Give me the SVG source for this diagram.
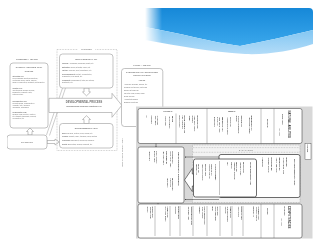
<svg xmlns="http://www.w3.org/2000/svg" width="320" height="240" viewBox="0 0 320 240">
<defs>
<style>
.f{font-family:"Liberation Sans",Arial,sans-serif}
.l{fill:#6e6e6e}
.d{fill:#3a3a3a}
.b{font-weight:bold}
.c{text-anchor:middle}
.lb{fill:#fff;stroke:#9a9a9a;stroke-width:0.6}
.rb{fill:#fff;stroke:#3c3c3c;stroke-width:0.55}
.dv{stroke:#555;stroke-width:0.35}
.dot{fill:none;stroke:#8a8a8a;stroke-width:0.45;stroke-dasharray:0.8 0.8}
.s1{font-size:2.1px}.s2{font-size:1.8px}.s3{font-size:1.55px}.s4{font-size:2.6px}
</style>
<linearGradient id="gD" x1="0" y1="0" x2="0" y2="1"><stop offset="0" stop-color="#1688d8"/><stop offset="1" stop-color="#3ba8ec"/></linearGradient>
<linearGradient id="gL" x1="0" y1="0" x2="0" y2="1"><stop offset="0" stop-color="#7cc4f2"/><stop offset="1" stop-color="#b3dcf8"/></linearGradient>
<linearGradient id="fade" x1="145" y1="0" x2="162" y2="0" gradientUnits="userSpaceOnUse"><stop offset="0" stop-color="#fff" stop-opacity="0"/><stop offset="1" stop-color="#fff" stop-opacity="1"/></linearGradient>
<mask id="m"><rect x="0" y="0" width="320" height="60" fill="url(#fade)"/></mask>
<filter id="grey" x="0" y="0" width="1" height="1"><feColorMatrix type="saturate" values="0"/></filter>
<marker id="ah" viewBox="0 0 6 6" refX="5" refY="3" markerWidth="3" markerHeight="3" orient="auto"><path d="M0,0 L6,3 L0,6 z" fill="#333"/></marker>
</defs>
<rect width="320" height="240" fill="#fff"/>
<g id="swoosh" mask="url(#m)">
<path d="M145,8 H309 Q313,8 313,12 V30 C292,35 262,42 240,46 C210,42 180,33 145,27 Z" fill="url(#gD)"/>
<path d="M145,27 C180,33 210,42 240,46 C262,42 292,35 313,30 V44 C292,51 266,55 245,54 C210,52 180,46 145,40 Z" fill="url(#gL)"/>
</g>

<g filter="url(#grey)">
<!-- LEFT DIAGRAM -->
<g id="left-connectors">
<line x1="46.5" y1="135" x2="62.5" y2="88" stroke="#9a9a9a" stroke-width="0.5"/>
<line x1="49.5" y1="135.5" x2="65.5" y2="88" stroke="#9a9a9a" stroke-width="0.5"/>
<polygon class="lb" points="28,135 28,131.5 26.5,131.5 30,128 33.5,131.5 32,131.5 32,135"/>
<polygon class="lb" points="47,140.5 55,140.5 55,139 59.3,142 55,145 55,143.5 47,143.5"/>
<polygon class="lb" points="84,88 84,92 82.5,92 86.5,95.8 90.5,92 89,92 89,88"/>
<polygon class="lb" points="84,123.5 84,119.5 82.5,119.5 86.5,115.7 90.5,119.5 89,119.5 89,123.5"/>
</g>
<g id="catalysts-frame">
<rect class="dot" x="57" y="49.5" width="60" height="101"/>
<rect x="78" y="48.3" width="17" height="2.4" fill="#fff"/>
<text class="f l b s2 c" x="86.5" y="50.3">CATALYSTS</text>
</g>
<g id="nat">
<text class="f l b s2 c" x="27" y="59.8">GIFTEDNESS (~ Top 10%)</text>
<rect class="lb" x="10" y="63" width="38" height="65" rx="3"/>
<text class="f l b s1 c" x="29" y="68">NATURAL ABILITIES (NAT)</text>
<text class="f l b s2 c" x="29" y="72">DOMAINS</text>
<g class="f l s3">
<text class="b" x="12.5" y="77.3">Intellectual (GI)</text>
<text x="12.5" y="79.4">Fluid reasoning (inductive/deductive),</text>
<text x="12.5" y="81.4">crystallized verbal, spatial, memory,</text>
<text x="12.5" y="83.4">sense of observation, judgment, metacognition</text>
<text class="b" x="12.5" y="89.3">Creative (GC)</text>
<text x="12.5" y="91.4">Inventiveness (problem-solving),</text>
<text x="12.5" y="93.4">imagination, originality (arts),</text>
<text x="12.5" y="95.4">retrieval fluency</text>
<text class="b" x="12.5" y="101.7">Socioaffective (GS)</text>
<text x="12.5" y="103.8">Perceptiveness, communication</text>
<text x="12.5" y="105.8">(empathy, tact), influence</text>
<text x="12.5" y="107.8">(leadership, persuasion)</text>
<text class="b" x="12.5" y="112.7">Sensorimotor (GM)</text>
<text x="12.5" y="114.8">Senses: visual, auditory, olfactory,</text>
<text x="12.5" y="116.8">etc. Strength, endurance, reflexes,</text>
<text x="12.5" y="118.8">coordination, etc.</text>
</g>
</g>
<g id="chance">
<rect class="lb" x="7" y="135" width="40" height="14" rx="3"/>
<text class="f l b s2 c" x="27" y="142.7">CHANCE (CH)</text>
</g>
<g id="intrapersonal">
<rect class="lb" x="59.5" y="54" width="53.5" height="34" rx="3"/>
<text class="f l b s1 c" x="86.2" y="59.5">INTRAPERSONAL (IC)</text>
<g class="f l s3">
<text x="62" y="64"><tspan class="b">Physical:</tspan> Appearance, handicaps, health, etc.</text>
<text x="62" y="67.8"><tspan class="b">Motivation:</tspan> Needs, interests, values, etc.</text>
<text x="62" y="71.4"><tspan class="b">Volition:</tspan> Willpower, effort, persistence, etc.</text>
<text x="62" y="75"><tspan class="b">Self-management:</tspan> Maturity, concentration,</text>
<text x="62" y="77.2">organization, work habits, etc.</text>
<text x="62" y="81"><tspan class="b">Personality:</tspan> Temperament, traits, self-esteem,</text>
<text x="62" y="83.2">adaptability, etc.</text>
</g>
</g>
<g id="developmental-process">
<polygon points="49,98.3 112,98.3 112,93.3 121.8,105.3 112,117.3 112,112.5 49,112.5" fill="#fff" stroke="#9a9a9a" stroke-width="0.6"/>
<text class="f l b s4 c" x="84" y="102.6">DEVELOPMENTAL PROCESS</text>
<text class="f l b s2 c" x="84" y="106.6">Informal/formal learning &amp; practicing (LP)</text>
</g>
<g id="environmental">
<rect class="lb" x="59.5" y="123.5" width="53.5" height="24.5" rx="3"/>
<text class="f l b s1 c" x="86.2" y="128.5">ENVIRONMENTAL (EC)</text>
<g class="f l s3">
<text x="62" y="133.5"><tspan class="b">Milieu:</tspan> Physical, cultural, social, familial, etc.</text>
<text x="62" y="137.3"><tspan class="b">Persons:</tspan> Parents, family, teachers, peers, mentors</text>
<text x="62" y="141.1"><tspan class="b">Provisions:</tspan> Enrichment, curriculum, pedagogy</text>
<text x="62" y="144.9"><tspan class="b">Events:</tspan> Encounters, awards, accidents, etc.</text>
</g>
</g>
<g id="talent">
<text class="f l b s2 c" x="142" y="66.2">TALENT (~ Top 10%)</text>
<rect class="lb" x="121.5" y="68.5" width="41.3" height="58" rx="3"/>
<text class="f l b s1 c" x="142" y="73">SYSTEMATICALLY DEVELOPED</text>
<text class="f l b s1 c" x="142" y="76.2">SKILLS (TALENT)</text>
<text class="f l b s2 c" x="142" y="81.4">FIELDS</text>
<g class="f l s3">
<text x="124" y="84.5">Academic: language, science, etc.</text>
<text x="124" y="87.6">Technical: automobile, electronics</text>
<text x="124" y="90.7">Science &amp; technology</text>
<text x="124" y="93.8">The arts: visual, drama, music</text>
<text x="124" y="96.9">Social services</text>
<text x="124" y="100">Administration/sales</text>
<text x="124" y="103.1">Business operations</text>
</g>
</g>

<!-- RIGHT ROTATED DIAGRAM -->
<g id="caption">
<text class="f l s2" transform="rotate(90 122 138)" x="122" y="138">Figure 1. Gagné's DMGT 2.0 (2008)</text>
</g>
<g id="frame">
<rect x="136" y="106.5" width="176.5" height="132" fill="#d8d8d8"/>
<rect x="305" y="143.5" width="6" height="16" fill="#fff" stroke="#3c3c3c" stroke-width="0.4"/>
<text class="f d b s2" transform="rotate(90 307.4 144.6)" x="307.4" y="144.6">CHANCE</text>
</g>
<g id="r-nat">
<rect class="rb" x="138" y="108.5" width="164" height="35" rx="2"/>
<line class="dv" x1="274" y1="108.5" x2="274" y2="143.5"/>
<line class="dv" x1="261" y1="108.5" x2="261" y2="143.5"/>
<line class="dv" x1="207" y1="108.5" x2="207" y2="143.5"/>
<line class="dv" x1="176" y1="113.5" x2="176" y2="143.5"/>
<text class="f d b" font-size="2.8" transform="rotate(90 288.3 110.5)" x="288.3" y="110.5">NATURAL ABILITIES</text>
<text class="f d b s2" transform="rotate(90 281.5 114)" x="281.5" y="114">GIFTS (NAT)</text>
<text class="f d s2" transform="rotate(90 279 128)" x="279" y="128">(top 10%)</text>
<text class="f d b s2" transform="rotate(90 266.5 119)" x="266.5" y="119">DOMAINS</text>
<text class="f d b s2 c" x="232" y="112.3">MENTAL</text>
<text class="f d b s2 c" x="168" y="112.3">PHYSICAL</text>
<g class="f d s3">
<text class="b" transform="rotate(90 251 115.5)" x="251" y="115.5">INTELLECTUAL (GI)</text>
<text transform="rotate(90 248.6 117)" x="248.6" y="117">Fluid reasoning, memory</text>
<text class="b" transform="rotate(90 240.5 115.5)" x="240.5" y="115.5">CREATIVE (GC)</text>
<text transform="rotate(90 238.1 115.5)" x="238.1" y="115.5">Inventiveness, imagination,</text>
<text transform="rotate(90 235.7 115.5)" x="235.7" y="115.5">originality</text>
<text class="b" transform="rotate(90 229.5 117)" x="229.5" y="117">SOCIAL (GS)</text>
<text transform="rotate(90 227.1 117)" x="227.1" y="117">Perceptiveness, influence</text>
<text class="b" transform="rotate(90 221.5 117)" x="221.5" y="117">PERCEPTUAL (GP)</text>
<text transform="rotate(90 219.1 117)" x="219.1" y="117">Visual, auditory, tactile</text>
<text transform="rotate(90 216.7 117)" x="216.7" y="117">olfactory, etc.</text>
<text transform="rotate(90 214.3 117)" x="214.3" y="117">proprioception</text>
<text class="b" transform="rotate(90 196.5 115.5)" x="196.5" y="115.5">MUSCULAR (GM)</text>
<text transform="rotate(90 194.1 115.5)" x="194.1" y="115.5">Power, speed, strength,</text>
<text transform="rotate(90 191.7 115.5)" x="191.7" y="115.5">endurance</text>
<text transform="rotate(90 189.3 115.5)" x="189.3" y="115.5">flexibility</text>
<text class="b" transform="rotate(90 184 115.5)" x="184" y="115.5">MOTOR CONTROL (GR)</text>
<text transform="rotate(90 181.6 115.5)" x="181.6" y="115.5">Agility, coordination</text>
<text transform="rotate(90 179.2 115.5)" x="179.2" y="115.5">balance, reflexes</text>
<text class="b" transform="rotate(90 171.5 116)" x="171.5" y="116">HEALTH</text>
<text transform="rotate(90 169.1 116)" x="169.1" y="116">Fitness, resilience</text>
<text transform="rotate(90 164.5 116)" x="164.5" y="116">Sensory acuity</text>
<text transform="rotate(90 157 115.5)" x="157" y="115.5">Physical traits</text>
<text transform="rotate(90 154.6 115.5)" x="154.6" y="115.5">Height, weight,</text>
<text transform="rotate(90 150.5 115.5)" x="150.5" y="115.5">Appearance</text>
<text transform="rotate(90 146 115.5)" x="146" y="115.5">etc.</text>
</g>
</g>
<g id="r-devprocess">
<rect class="rb" x="138" y="147" width="46" height="56" rx="2"/>
<text class="f d b" font-size="2.4" transform="rotate(90 178.3 152)" x="178.3" y="152">DEVELOPMENTAL PROCESS</text>
<g class="f d s3">
<text class="b" transform="rotate(90 172 151)" x="172" y="151">ACTIVITIES (DA)</text>
<text transform="rotate(90 169.6 151)" x="169.6" y="151">Access, content, format</text>
<text class="b" transform="rotate(90 165.5 151)" x="165.5" y="151">INVESTMENT (DI)</text>
<text transform="rotate(90 163.1 151)" x="163.1" y="151">Time, energy, money</text>
<text class="b" transform="rotate(90 172 178)" x="172" y="178">PROGRESS (DP)</text>
<text transform="rotate(90 169.6 178)" x="169.6" y="178">Stages, pace,</text>
<text transform="rotate(90 167.2 178)" x="167.2" y="178">turning points</text>
<text transform="rotate(90 156 151)" x="156" y="151">Novice, advanced,</text>
<text transform="rotate(90 153.6 151)" x="153.6" y="151">proficient, expert</text>
<text transform="rotate(90 149 151)" x="149" y="151">Turning points</text>
</g>
</g>
<g id="r-catalysts">
<rect x="192.5" y="145" width="107.5" height="57.5" fill="#f3f3f3" stroke="#8a8a8a" stroke-width="0.45" stroke-dasharray="0.8 0.8"/>
<line x1="193" y1="147.6" x2="299.5" y2="147.6" stroke="#777" stroke-width="0.35" stroke-dasharray="0.8 0.8"/>
<line x1="193" y1="152.3" x2="299.5" y2="152.3" stroke="#777" stroke-width="0.35" stroke-dasharray="0.8 0.8"/>
<text class="f d s3 c" x="246" y="150.6" letter-spacing="0.6">CATALYSTS</text>
</g>
<g id="r-environmental">
<rect x="219" y="154.5" width="81" height="43" rx="2" fill="#fff" stroke="#2e2e2e" stroke-width="0.7"/>
<text class="f d b" font-size="2.4" transform="rotate(90 293.5 159)" x="293.5" y="159">ENVIRONMENTAL (EC)</text>
<g class="f d s3">
<text class="b" transform="rotate(90 285.5 157.5)" x="285.5" y="157.5">MILIEU (EM)</text>
<text transform="rotate(90 283.1 157.5)" x="283.1" y="157.5">Physical, cultural, social</text>
<text class="b" transform="rotate(90 278.5 157.5)" x="278.5" y="157.5">INDIVIDUALS (EI)</text>
<text transform="rotate(90 276.1 157.5)" x="276.1" y="157.5">Parents, family, peers</text>
<text class="b" transform="rotate(90 270.5 157.5)" x="270.5" y="157.5">PROVISIONS (EP)</text>
<text transform="rotate(90 268.1 157.5)" x="268.1" y="157.5">Enrichment, pedagogy</text>
<text transform="rotate(90 262 157.5)" x="262" y="157.5">Administrative</text>
</g>
</g>
<g id="r-intrapersonal">
<rect x="193.5" y="159" width="63" height="38" rx="2" fill="#fff" stroke="#2e2e2e" stroke-width="0.7"/>
<line class="dv" x1="219.5" y1="161" x2="219.5" y2="195"/>
<text class="f d b" font-size="2.2" transform="rotate(90 250.3 162)" x="250.3" y="162">INTRAPERSONAL (IC)</text>
<g class="f d s3">
<text class="b" transform="rotate(90 242.5 162)" x="242.5" y="162">PHYSICAL (IP)</text>
<text transform="rotate(90 240.1 162)" x="240.1" y="162">Appearance, health</text>
<text class="b" transform="rotate(90 236 162)" x="236" y="162">MENTAL (IM)</text>
<text transform="rotate(90 233.6 162)" x="233.6" y="162">Temperament, personality</text>
<text transform="rotate(90 231.2 162)" x="231.2" y="162">resilience</text>
<text transform="rotate(90 226.5 162)" x="226.5" y="162">traits</text>
<text class="b" transform="rotate(90 215 164)" x="215" y="164">GOAL MANAGEMENT</text>
<text class="b" transform="rotate(90 211 164)" x="211" y="164">Awareness (IA)</text>
<text transform="rotate(90 208.6 164)" x="208.6" y="164">Self/others, strengths</text>
<text class="b" transform="rotate(90 204.5 164)" x="204.5" y="164">Motivation (IMo)</text>
<text transform="rotate(90 202.1 164)" x="202.1" y="164">Values, needs, interests</text>
<text class="b" transform="rotate(90 198 164)" x="198" y="164">Volition (IV)</text>
<text transform="rotate(90 195.6 164)" x="195.6" y="164">Willpower, effort</text>
</g>
</g>
<g id="r-competencies">
<rect class="rb" x="138" y="204" width="164" height="34" rx="2"/>
<line class="dv" x1="274" y1="204" x2="274" y2="238"/>
<line class="dv" x1="261" y1="204" x2="261" y2="238"/>
<line class="dv" x1="243" y1="206" x2="243" y2="236"/>
<line class="dv" x1="232" y1="206" x2="232" y2="236"/>
<line class="dv" x1="220" y1="206" x2="220" y2="236"/>
<line class="dv" x1="207" y1="206" x2="207" y2="236"/>
<line class="dv" x1="193" y1="206" x2="193" y2="236"/>
<line class="dv" x1="180" y1="206" x2="180" y2="236"/>
<line class="dv" x1="170" y1="206" x2="170" y2="236"/>
<line class="dv" x1="155" y1="206" x2="155" y2="236"/>
<text class="f d b" font-size="2.8" transform="rotate(90 288.3 206)" x="288.3" y="206">COMPETENCIES</text>
<text class="f d b s2" transform="rotate(90 283.5 206)" x="283.5" y="206">(TALENTS)</text>
<text class="f d s2" transform="rotate(90 280.5 218)" x="280.5" y="218">(top 10%)</text>
<text class="f d b s2" transform="rotate(90 266.5 208)" x="266.5" y="208">FIELDS</text>
<g class="f d s3">
<text class="b" transform="rotate(90 258 206.5)" x="258" y="206.5">ACADEMIC (ACA)</text>
<text transform="rotate(90 255.6 206.5)" x="255.6" y="206.5">Languages, sciences</text>
<text transform="rotate(90 253.2 206.5)" x="253.2" y="206.5">humanities, etc.</text>
<text class="b" transform="rotate(90 240.5 206.5)" x="240.5" y="206.5">TECHNICAL (TEC)</text>
<text transform="rotate(90 238.1 206.5)" x="238.1" y="206.5">Trades &amp; crafts</text>
<text class="b" transform="rotate(90 229.5 206.5)" x="229.5" y="206.5">SCIENCE (SCT)</text>
<text transform="rotate(90 227.1 206.5)" x="227.1" y="206.5">Engineering, medicine</text>
<text transform="rotate(90 224.7 206.5)" x="224.7" y="206.5">technology</text>
<text class="b" transform="rotate(90 217 206.5)" x="217" y="206.5">ARTS (ART)</text>
<text transform="rotate(90 214.6 206.5)" x="214.6" y="206.5">Visual, drama, music</text>
<text transform="rotate(90 212.2 206.5)" x="212.2" y="206.5">writing</text>
<text class="b" transform="rotate(90 204 206.5)" x="204" y="206.5">SOCIAL SERVICE (SOC)</text>
<text transform="rotate(90 201.6 206.5)" x="201.6" y="206.5">Health, education</text>
<text transform="rotate(90 199.2 206.5)" x="199.2" y="206.5">community</text>
<text class="b" transform="rotate(90 190.5 206.5)" x="190.5" y="206.5">ADMINISTRATION (ADM)</text>
<text transform="rotate(90 188.1 206.5)" x="188.1" y="206.5">Management, sales</text>
<text class="b" transform="rotate(90 177.5 206.5)" x="177.5" y="206.5">BUSINESS (BUS)</text>
<text transform="rotate(90 175.1 206.5)" x="175.1" y="206.5">Operations</text>
<text class="b" transform="rotate(90 167 206.5)" x="167" y="206.5">GAMES (GAM)</text>
<text transform="rotate(90 164.6 206.5)" x="164.6" y="206.5">Video, cards, puzzles</text>
<text class="b" transform="rotate(90 152 206.5)" x="152" y="206.5">SPORTS (SPO)</text>
<text transform="rotate(90 149.6 206.5)" x="149.6" y="206.5">Individual &amp; team</text>
<text transform="rotate(90 147.2 206.5)" x="147.2" y="206.5">athletics</text>
</g>
</g>
<g id="r-connectors">
<polygon points="184.5,180 192.3,168.5 192.3,174 193.5,174 193.5,186 192.3,186 192.3,191.5" fill="#fff" stroke="#2e2e2e" stroke-width="0.6"/>
<line x1="219" y1="157" x2="185" y2="157" stroke="#333" stroke-width="0.5" marker-end="url(#ah)"/>
<line x1="219" y1="199.5" x2="185" y2="199.5" stroke="#333" stroke-width="0.5" marker-end="url(#ah)"/>
<line x1="156" y1="143.5" x2="156" y2="146.8" stroke="#333" stroke-width="0.5" marker-end="url(#ah)"/>
<line x1="158" y1="203" x2="158" y2="204.2" stroke="#333" stroke-width="0.5"/>
</g>
</g>
</svg>
